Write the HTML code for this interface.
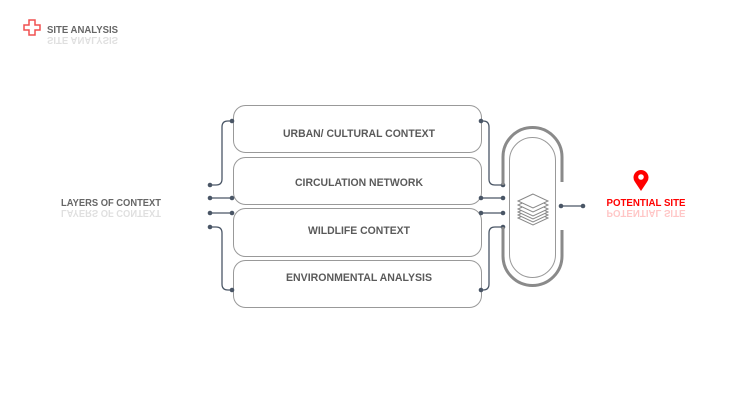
<!DOCTYPE html>
<html><head><style>
body{margin:0;width:730px;height:413px;background:#fff;overflow:hidden;font-family:"Liberation Sans",sans-serif}
</style></head><body>
<svg width="730" height="413" viewBox="0 0 730 413" xmlns="http://www.w3.org/2000/svg" font-family="Liberation Sans, sans-serif" font-weight="bold">
<!-- header -->
<path d="M29 20h6v5h5v5h-5v5h-6v-5h-5v-5h5z" fill="none" stroke="#f05050" stroke-width="1.5"/>
<text x="47" y="33" font-size="10" fill="#666" textLength="71" lengthAdjust="spacingAndGlyphs">SITE ANALYSIS</text>
<g transform="translate(0,70) scale(1,-1)" opacity="0.2"><text x="47" y="33" font-size="10" fill="#666" textLength="71" lengthAdjust="spacingAndGlyphs">SITE ANALYSIS</text></g>

<!-- left label -->
<text x="61" y="206" font-size="10" fill="#666" textLength="100" lengthAdjust="spacingAndGlyphs">LAYERS OF CONTEXT</text>
<g transform="translate(0,416) scale(1,-1)" opacity="0.2"><text x="61" y="206" font-size="10" fill="#666" textLength="100" lengthAdjust="spacingAndGlyphs">LAYERS OF CONTEXT</text></g>

<!-- boxes -->
<g fill="#fff" stroke="#999" stroke-width="1">
<rect x="233.5" y="105.5" width="248" height="47" rx="12"/>
<rect x="233.5" y="157.5" width="248" height="47" rx="12"/>
<rect x="233.5" y="208.5" width="248" height="48" rx="12"/>
<rect x="233.5" y="260.5" width="248" height="47" rx="12"/>
</g>
<g font-size="11" fill="#5a5a5a" text-anchor="middle" lengthAdjust="spacingAndGlyphs">
<text x="359" y="137" textLength="152" lengthAdjust="spacingAndGlyphs">URBAN/ CULTURAL CONTEXT</text>
<text x="359" y="186" textLength="128" lengthAdjust="spacingAndGlyphs">CIRCULATION NETWORK</text>
<text x="359" y="234" textLength="102" lengthAdjust="spacingAndGlyphs">WILDLIFE CONTEXT</text>
<text x="359" y="281" textLength="146" lengthAdjust="spacingAndGlyphs">ENVIRONMENTAL ANALYSIS</text>
</g>

<!-- connectors -->
<g fill="none" stroke="#4a5666" stroke-width="1.3">
<path d="M210 185h6q6 0 6-6v-52q0-6 6-6h4"/>
<path d="M210 198h22"/>
<path d="M210 213h22"/>
<path d="M210 227h6q6 0 6 6v51q0 6 6 6h4"/>
<path d="M481 121h2q6 0 6 6v52q0 6 6 6h8"/>
<path d="M481 198h22"/>
<path d="M481 213h22"/>
<path d="M481 290h2q6 0 6-6v-51q0-6 6-6h8"/>
<path d="M561 206h22"/>
</g>
<g fill="#4a5666">
<circle cx="210" cy="185" r="2.3"/><circle cx="210" cy="198" r="2.3"/><circle cx="210" cy="213" r="2.3"/><circle cx="210" cy="227" r="2.3"/>
<circle cx="232" cy="121" r="2.3"/><circle cx="232" cy="198" r="2.3"/><circle cx="232" cy="213" r="2.3"/><circle cx="232" cy="290" r="2.3"/>
<circle cx="481" cy="121" r="2.3"/><circle cx="481" cy="198" r="2.3"/><circle cx="481" cy="213" r="2.3"/><circle cx="481" cy="290" r="2.3"/>
<circle cx="503" cy="185" r="2.3"/><circle cx="503" cy="198" r="2.3"/><circle cx="503" cy="213" r="2.3"/><circle cx="503" cy="227" r="2.3"/>
<circle cx="561" cy="206" r="2.3"/><circle cx="583" cy="206" r="2.3"/>
</g>

<!-- capsule -->
<g fill="none" stroke="#8a8a8a" stroke-width="3">
<path d="M503 185V157a29.5 29.5 0 0 1 59 0v25"/>
<path d="M503 227v29a29.5 29.5 0 0 0 59 0v-26"/>
</g>
<rect x="509.5" y="137.5" width="46" height="140" rx="23" fill="none" stroke="#999" stroke-width="1"/>
<!-- layers icon -->
<g fill="#fff" stroke="#888" stroke-width="1">
<path d="M533 211l-15 7 15 7 15-7z"/>
<path d="M533 208l-15 7 15 7 15-7z"/>
<path d="M533 205l-15 7 15 7 15-7z"/>
<path d="M533 202l-15 7 15 7 15-7z"/>
<path d="M533 198l-15 7 15 7 15-7z"/>
<path d="M533 194l-15 7 15 7 15-7z"/>
</g>

<!-- pin -->
<path d="M641 191l-6-9a7.5 7.5 0 1 1 12 0z" fill="#f00"/>
<circle cx="641" cy="177" r="2.8" fill="#fff"/>
<text x="646" y="206" font-size="10" fill="#f00" text-anchor="middle" textLength="79" lengthAdjust="spacingAndGlyphs">POTENTIAL SITE</text>
<g transform="translate(0,416) scale(1,-1)" opacity="0.22"><text x="646" y="206" font-size="10" fill="#f00" text-anchor="middle" textLength="79" lengthAdjust="spacingAndGlyphs">POTENTIAL SITE</text></g>
</svg>
</body></html>
